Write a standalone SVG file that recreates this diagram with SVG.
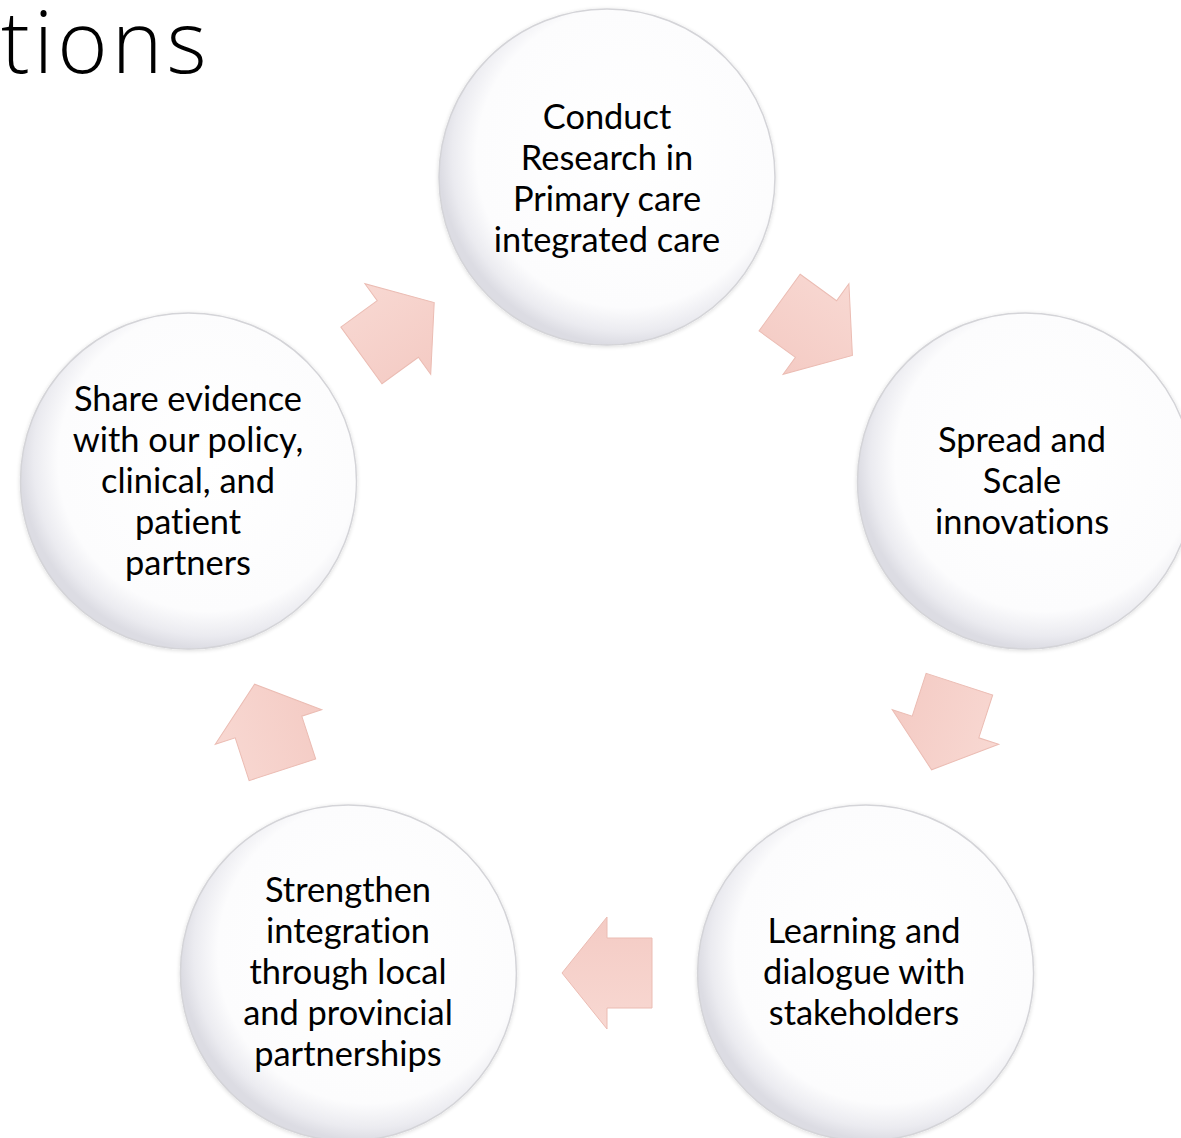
<svg xmlns="http://www.w3.org/2000/svg" width="1181" height="1138" viewBox="0 0 1181 1138">
<style>
.lbl{font-family:Lato,"Open Sans","Liberation Sans",sans-serif;font-size:34.4px;fill:#000;text-anchor:middle;font-variant-ligatures:none}
.title{font-family:"Open Sans","Liberation Sans",sans-serif;font-weight:300;font-size:86px;letter-spacing:4px;fill:#000;font-variant-ligatures:none}
.node circle{fill:url(#cg);stroke:#d4d4d8;stroke-width:1.5}
.arr path{fill:url(#ag);stroke:#ebbcb3;stroke-width:1;stroke-linejoin:miter}
</style>
<defs>
<radialGradient id="cg" cx="0.56" cy="0.44" r="0.56">
<stop offset="0" stop-color="#ffffff"/>
<stop offset="0.8" stop-color="#fcfcfd"/>
<stop offset="0.93" stop-color="#ebebf0"/>
<stop offset="1" stop-color="#dcdce3"/>
</radialGradient>
<linearGradient id="ag" x1="0" y1="0" x2="0" y2="1">
<stop offset="0" stop-color="#f8d8d2"/>
<stop offset="1" stop-color="#f4cbc4"/>
</linearGradient>
<filter id="sh" x="-10%" y="-10%" width="120%" height="120%">
<feGaussianBlur in="SourceAlpha" stdDeviation="2"/>
<feOffset dx="0" dy="1" result="b"/>
<feComponentTransfer><feFuncA type="linear" slope="0.15"/></feComponentTransfer>
<feMerge><feMergeNode/><feMergeNode in="SourceGraphic"/></feMerge>
</filter>
</defs>
<rect width="1181" height="1138" fill="#ffffff"/>
<text class="title" x="1" y="73">tions</text>

<g id="connectors" class="arr">
<path d="M-45,-35 L0,-35 L0,-56 L45,0 L0,56 L0,35 L-45,35 Z" transform="translate(816,329) rotate(36)"/>
<path d="M-45,-35 L0,-35 L0,-56 L45,0 L0,56 L0,35 L-45,35 Z" transform="translate(945.5,727) rotate(108)"/>
<path d="M-45,-35 L0,-35 L0,-56 L45,0 L0,56 L0,35 L-45,35 Z" transform="translate(607,973) rotate(180)"/>
<path d="M-45,-35 L0,-35 L0,-56 L45,0 L0,56 L0,35 L-45,35 Z" transform="translate(268.5,727) rotate(252)"/>
<path d="M-45,-35 L0,-35 L0,-56 L45,0 L0,56 L0,35 L-45,35 Z" transform="translate(397.8,329) rotate(-36)"/>
</g>

<g id="node-research" class="node">
<circle cx="607" cy="177" r="168" filter="url(#sh)"/>
<text class="lbl" x="607" y="129">Conduct</text>
<text class="lbl" x="607" y="170">Research in</text>
<text class="lbl" x="607" y="211">Primary care</text>
<text class="lbl" x="607" y="252">integrated care</text>
</g>
<g id="node-spread" class="node">
<circle cx="1025.5" cy="481" r="168" filter="url(#sh)"/>
<text class="lbl" x="1022" y="452">Spread and</text>
<text class="lbl" x="1022" y="493">Scale</text>
<text class="lbl" x="1022" y="534">innovations</text>
</g>
<g id="node-learning" class="node">
<circle cx="865.6" cy="973" r="168" filter="url(#sh)"/>
<text class="lbl" x="864" y="943">Learning and</text>
<text class="lbl" x="864" y="984">dialogue with</text>
<text class="lbl" x="864" y="1025">stakeholders</text>
</g>
<g id="node-strengthen" class="node">
<circle cx="348.4" cy="973" r="168" filter="url(#sh)"/>
<text class="lbl" x="348" y="902">Strengthen</text>
<text class="lbl" x="348" y="943">integration</text>
<text class="lbl" x="348" y="984">through local</text>
<text class="lbl" x="348" y="1025">and provincial</text>
<text class="lbl" x="348" y="1066">partnerships</text>
</g>
<g id="node-share" class="node">
<circle cx="188.5" cy="481" r="168" filter="url(#sh)"/>
<text class="lbl" x="188" y="411">Share evidence</text>
<text class="lbl" x="188" y="452">with our policy,</text>
<text class="lbl" x="188" y="493">clinical, and</text>
<text class="lbl" x="188" y="534">patient</text>
<text class="lbl" x="188" y="575">partners</text>
</g>
</svg>
